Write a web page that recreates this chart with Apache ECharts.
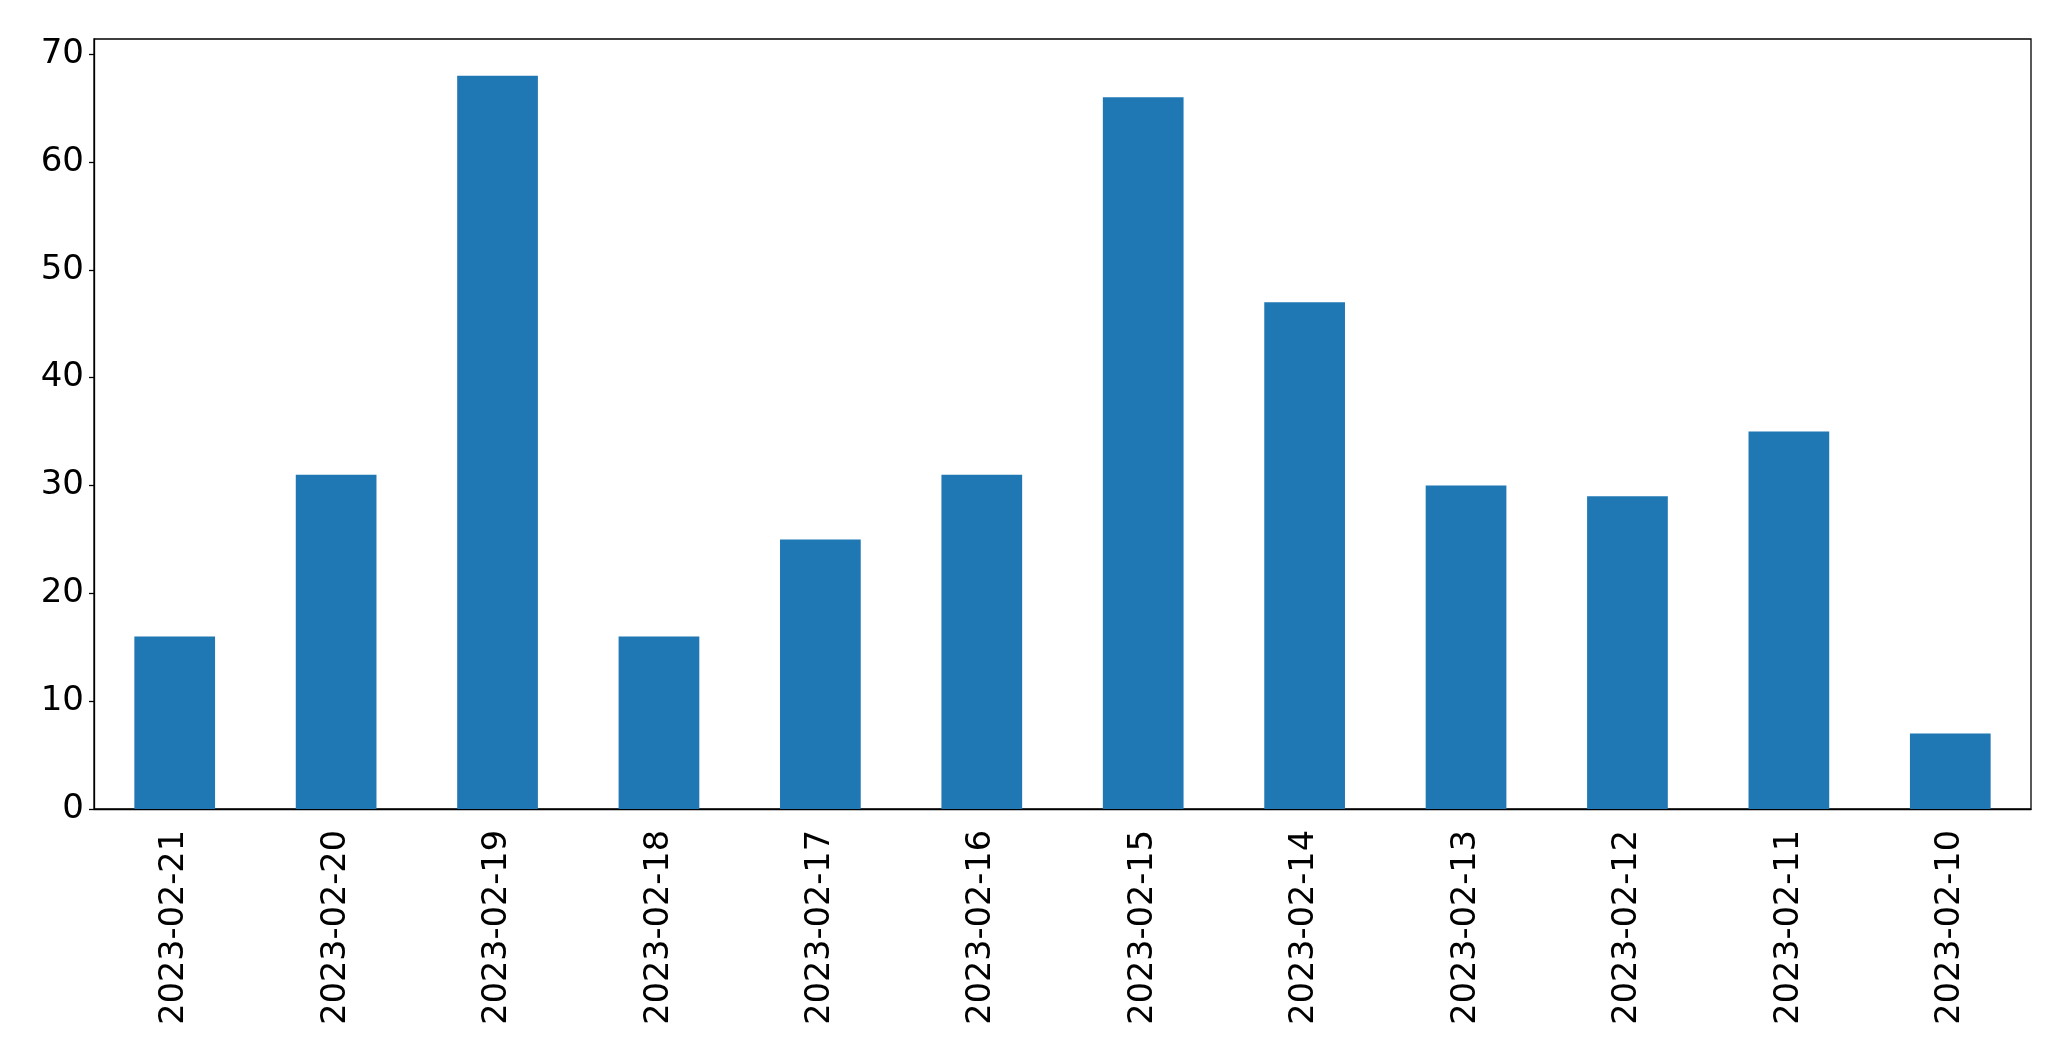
<!DOCTYPE html>
<html>
<head>
<meta charset="utf-8">
<script src="https://cdn.jsdelivr.net/npm/echarts@6/dist/echarts.min.js"></script>
<style>
html,body{margin:0;padding:0;background:#fff;}
#chart{width:2071px;height:1061px;}
</style>
</head>
<body>
<div id="chart"></div>
<script>
const categories = ["2023-02-21","2023-02-20","2023-02-19","2023-02-18","2023-02-17","2023-02-16","2023-02-15","2023-02-14","2023-02-13","2023-02-12","2023-02-11","2023-02-10"];
const values = [16, 31, 68, 16, 25, 31, 66, 47, 30, 29, 35, 7];
const yMax = 71.4;
const yInterval = 10;

const chart = echarts.init(document.getElementById('chart'), null, {renderer: 'canvas'});
const font = 'DejaVu Sans';
chart.setOption({
  animation: false,
  backgroundColor: '#fff',
  grid: {left: 94, right: 40, top: 39, bottom: 252, show: true, borderColor: '#000', borderWidth: 1.3, backgroundColor: 'transparent'},
  xAxis: {
    type: 'category',
    data: categories,
    boundaryGap: true,
    axisLine: {lineStyle: {color: '#000', width: 1.3}},
    axisTick: {alignWithLabel: true, length: 5, lineStyle: {color: '#000', width: 1.3}},
    axisLabel: {rotate: 90, margin: 21, fontFamily: font, fontSize: 33.5, color: '#000', interval: 0}
  },
  yAxis: {
    type: 'value',
    min: 0,
    max: yMax,
    interval: yInterval,
    splitLine: {show: false},
    axisLine: {show: true, lineStyle: {color: '#000', width: 1.3}},
    axisTick: {show: true, length: 5, lineStyle: {color: '#000', width: 1.3}},
    axisLabel: {showMaxLabel: false, margin: 10, fontFamily: font, fontSize: 34, color: '#000'}
  },
  series: [{
    type: 'bar',
    data: values,
    barWidth: '50%',
    itemStyle: {color: '#1f77b4'}
  }]
});
</script>
</body>
</html>
